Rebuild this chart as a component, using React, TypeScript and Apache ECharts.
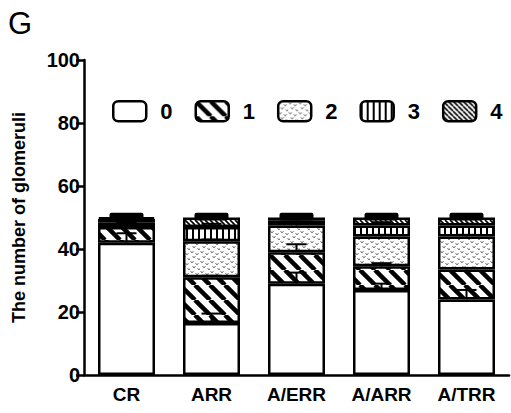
import React, { useEffect, useRef } from "react";
import * as echarts from "echarts";

const categories = ["CR", "ARR", "A/ERR", "A/ARR", "A/TRR"];
const gradeNames = ["0", "1", "2", "3", "4"];
const grade0 = [42, 16.5, 29, 27, 24];
const grade1 = [5, 14.5, 10, 7.5, 9.5];
const grade2 = [1.5, 11.5, 8.5, 9.5, 10.5];
const grade3 = [1, 4.5, 1.5, 3.5, 3.5];
const grade4 = [0.5, 3, 1, 2.5, 2.5];
const err0 = [3, 3, 3.5, 2, 3];
const err1 = [1.5, 0.5, 2.5, 1, 0.5];
const err2 = [0.5, 0.5, 0.5, 0.5, 0.5];
const err3 = [0.5, 1, 0.5, 1, 0.5];
const err4 = [1.5, 1.5, 1.5, 1.5, 1.5];
const yTicks = [0, 20, 40, 60, 80, 100];

const FONT = "'Liberation Sans', Arial, Helvetica, sans-serif";

function makeTile(size: number, draw: (ctx: CanvasRenderingContext2D) => void): string {
  const c = document.createElement("canvas");
  c.width = size;
  c.height = size;
  const ctx = c.getContext("2d")!;
  ctx.fillStyle = "#fff";
  ctx.fillRect(0, 0, size, size);
  draw(ctx);
  return c.toDataURL();
}

function diagTile(s: number, w: number): string {
  return makeTile(s, (ctx) => {
    ctx.strokeStyle = "#000";
    ctx.lineWidth = w;
    for (const x0 of [-s, 0, s]) {
      ctx.beginPath();
      ctx.moveTo(x0, 0);
      ctx.lineTo(x0 + s, s);
      ctx.stroke();
    }
  });
}

function dotTile(): string {
  return makeTile(10, (ctx) => {
    ctx.strokeStyle = "#777";
    ctx.lineWidth = 1;
    const marks = [[2, 2], [7, 4], [4, 7], [9, 9]];
    for (const [x, y] of marks) {
      ctx.beginPath();
      ctx.moveTo(x - 1.5, y - 1);
      ctx.lineTo(x, y + 1);
      ctx.lineTo(x + 1.5, y - 1);
      ctx.stroke();
    }
  });
}

function vertTile(): string {
  return makeTile(6, (ctx) => {
    ctx.fillStyle = "#000";
    ctx.fillRect(0, 0, 2, 6);
  });
}

export default function App() {
  const ref = useRef<HTMLDivElement>(null);
  useEffect(() => {
    document.body.style.margin = "0";
    if (!ref.current) return;
    const chart = echarts.init(ref.current, null, { renderer: "svg" });
    const fills: any[] = [
      "#fff",
      { image: diagTile(15, 4.5), repeat: "repeat" },
      { image: dotTile(), repeat: "repeat" },
      { image: vertTile(), repeat: "repeat" },
      { image: diagTile(5, 1.6), repeat: "repeat" },
    ];
    const grades = [grade0, grade1, grade2, grade3, grade4];
    const errs = [err0, err1, err2, err3, err4];
    const errData: any[] = [];
    categories.forEach((_, ci) => {
      let cum = 0;
      grades.forEach((g, si) => {
        cum += g[ci];
        errData.push([ci, cum, errs[si][ci], si]);
      });
    });
    const barSeries = grades.map((g, si) => ({
      name: gradeNames[si],
      type: "bar",
      stack: "total",
      barWidth: 57,
      data: g,
      itemStyle: { color: fills[si], borderColor: "#000", borderWidth: 2.5 },
      z: 2,
    }));
    chart.setOption({
      animation: false,
      graphic: [
        {
          type: "text",
          left: 8,
          top: 8,
          style: { text: "G", font: `31px ${FONT}`, fill: "#000" },
        },
      ],
      legend: {
        data: gradeNames,
        left: 107,
        top: 95,
        width: 404,
        itemWidth: 33,
        itemHeight: 20,
        itemGap: 22,
        icon: "roundRect",
        itemStyle: { borderColor: "#000", borderWidth: 2.5 },
        textStyle: {
          fontFamily: FONT,
          fontWeight: "bold",
          fontSize: 22,
          color: "#000",
          padding: [0, 0, 0, 9],
        },
      },
      grid: { left: 84, right: 2, top: 60, bottom: 38 },
      xAxis: {
        type: "category",
        data: categories,
        axisLine: { lineStyle: { color: "#000", width: 2.5 } },
        axisTick: { alignWithLabel: true, length: 8, lineStyle: { color: "#000", width: 2.5 } },
        axisLabel: { color: "#000", fontFamily: FONT, fontWeight: "bold", fontSize: 19, margin: 10 },
      },
      yAxis: {
        type: "value",
        min: yTicks[0],
        max: yTicks[yTicks.length - 1],
        interval: yTicks[1] - yTicks[0],
        name: "The number of glomeruli",
        nameLocation: "middle",
        nameGap: 56,
        nameTextStyle: { color: "#000", fontFamily: FONT, fontWeight: "bold", fontSize: 18 },
        splitLine: { show: false },
        axisLine: { show: true, lineStyle: { color: "#000", width: 2.5 } },
        axisTick: { show: true, length: 8, lineStyle: { color: "#000", width: 2.5 } },
        axisLabel: { color: "#000", fontFamily: FONT, fontWeight: "bold", fontSize: 20, margin: 4 },
      },
      series: [
        ...barSeries,
        {
          type: "custom",
          name: "err",
          z: 5,
          data: errData,
          renderItem: (params: any, api: any) => {
            const cat = api.value(0);
            const top = api.value(1);
            const e = api.value(2);
            const seg = api.value(3);
            const p0 = api.coord([cat, top]);
            const p1 = api.coord([cat, top + e]);
            if (seg === 4) {
              return {
                type: "rect",
                shape: { x: p0[0] - 17, y: p1[1], width: 34, height: p0[1] - p1[1] + 3, r: 2 },
                style: { fill: "#000" },
              };
            }
            return {
              type: "group",
              children: [
                {
                  type: "line",
                  shape: { x1: p0[0], y1: p0[1], x2: p1[0], y2: p1[1] },
                  style: { stroke: "#000", lineWidth: 2 },
                },
                {
                  type: "line",
                  shape: { x1: p1[0] - 10, y1: p1[1], x2: p1[0] + 10, y2: p1[1] },
                  style: { stroke: "#000", lineWidth: 2 },
                },
              ],
            };
          },
        },
      ],
    });
    return () => chart.dispose();
  }, []);
  return <div ref={ref} style={{ width: 511, height: 413 }} />;
}
